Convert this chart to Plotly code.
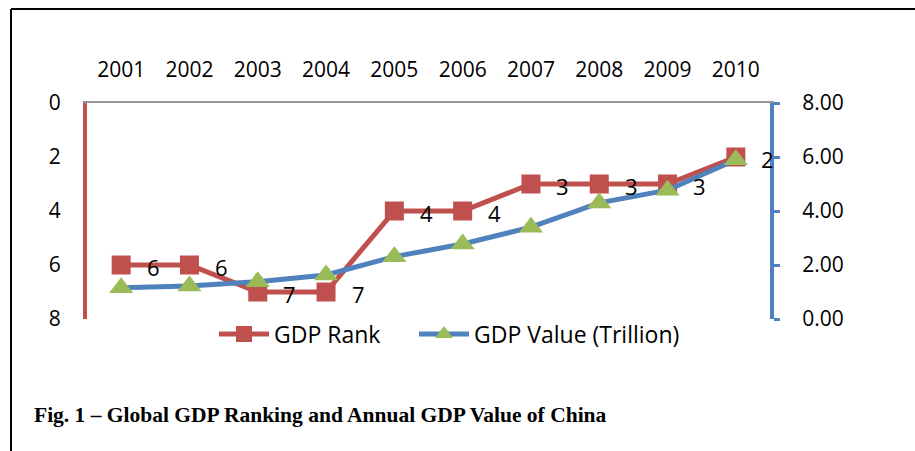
import plotly.graph_objects as go

years = ["2001", "2002", "2003", "2004", "2005", "2006", "2007", "2008", "2009", "2010"]
gdp_rank = [6, 6, 7, 7, 4, 4, 3, 3, 3, 2]
gdp_value = [1.16, 1.22, 1.38, 1.63, 2.31, 2.78, 3.40, 4.30, 4.77, 5.90]

RED = "#C0504D"
BLUE = "#4F81BD"
GREEN = "#9BBB59"
FONT = "Open Sans"

fig = go.Figure()

fig.add_trace(go.Scatter(
    x=years, y=gdp_rank, name="GDP Rank", mode="lines+markers",
    line=dict(color=RED, width=5),
    marker=dict(symbol="square", size=19, color=RED),
    yaxis="y", legend="legend",
))
fig.add_trace(go.Scatter(
    x=years, y=gdp_value, name="GDP Value (Trillion)", mode="lines+markers",
    line=dict(color=BLUE, width=5),
    marker=dict(symbol="triangle-up", size=21, color=GREEN),
    yaxis="y2", legend="legend2",
))

# rank labels to the right of each square (category axis -> use index)
annotations = [
    dict(x=i, y=r, xref="x", yref="y", text=str(r), showarrow=False,
         xshift=32, yshift=-2, font=dict(family=FONT, size=22, color="black"))
    for i, r in enumerate(gdp_rank)
]
annotations.append(dict(
    x=(32 - 87) / 683, y=(319 - 415) / 216, xref="paper", yref="paper",
    xanchor="left", yanchor="middle",
    text="<b>Fig. 1 – Global GDP Ranking and Annual GDP Value of China</b>",
    showarrow=False, font=dict(family="Liberation Serif", size=21.5, color="black"),
))

pw = 770 - 87
ph = 319 - 103
shapes = [
    dict(type="line", xref="paper", yref="paper",
         x0=(11 - 87) / pw, x1=(915 - 87) / pw, y0=(319 - 9) / ph, y1=(319 - 9) / ph,
         line=dict(color="black", width=2)),
    dict(type="line", xref="paper", yref="paper",
         x0=(11 - 87) / pw, x1=(11 - 87) / pw, y0=(319 - 9) / ph, y1=(319 - 460) / ph,
         line=dict(color="black", width=2)),
]

legend_style = dict(orientation="h", y=0.03, xanchor="left", yanchor="top",
                    font=dict(size=23), itemwidth=50, bgcolor="rgba(0,0,0,0)")

fig.update_layout(
    width=915, height=451,
    margin=dict(l=87, r=145, t=103, b=132),
    paper_bgcolor="white", plot_bgcolor="white",
    font=dict(family=FONT, size=21, color="black"),
    xaxis=dict(type="category", side="top", showline=True, linecolor="#969696",
               linewidth=2, showgrid=False, ticks="", range=[-0.5, 9.5],
               ticklabelstandoff=16),
    yaxis=dict(range=[8, 0], dtick=2, showgrid=False, zeroline=False,
               showline=True, linecolor=RED, linewidth=4, ticks="",
               ticklabelstandoff=18),
    yaxis2=dict(range=[0, 8], dtick=2, tickformat=".2f", overlaying="y",
                side="right", showgrid=False, zeroline=False, showline=True,
                linecolor=BLUE, linewidth=4, ticks="outside", tickcolor=BLUE,
                tickwidth=3, ticklen=6, ticklabelstandoff=18),
    legend=dict(x=(214 - 87) / pw, **legend_style),
    legend2=dict(x=(414 - 87) / pw, **legend_style),
    showlegend=True,
    annotations=annotations,
    shapes=shapes,
)

fig.write_html("out.html", config={"displayModeBar": False},
               post_script="document.body.style.margin='0';")
